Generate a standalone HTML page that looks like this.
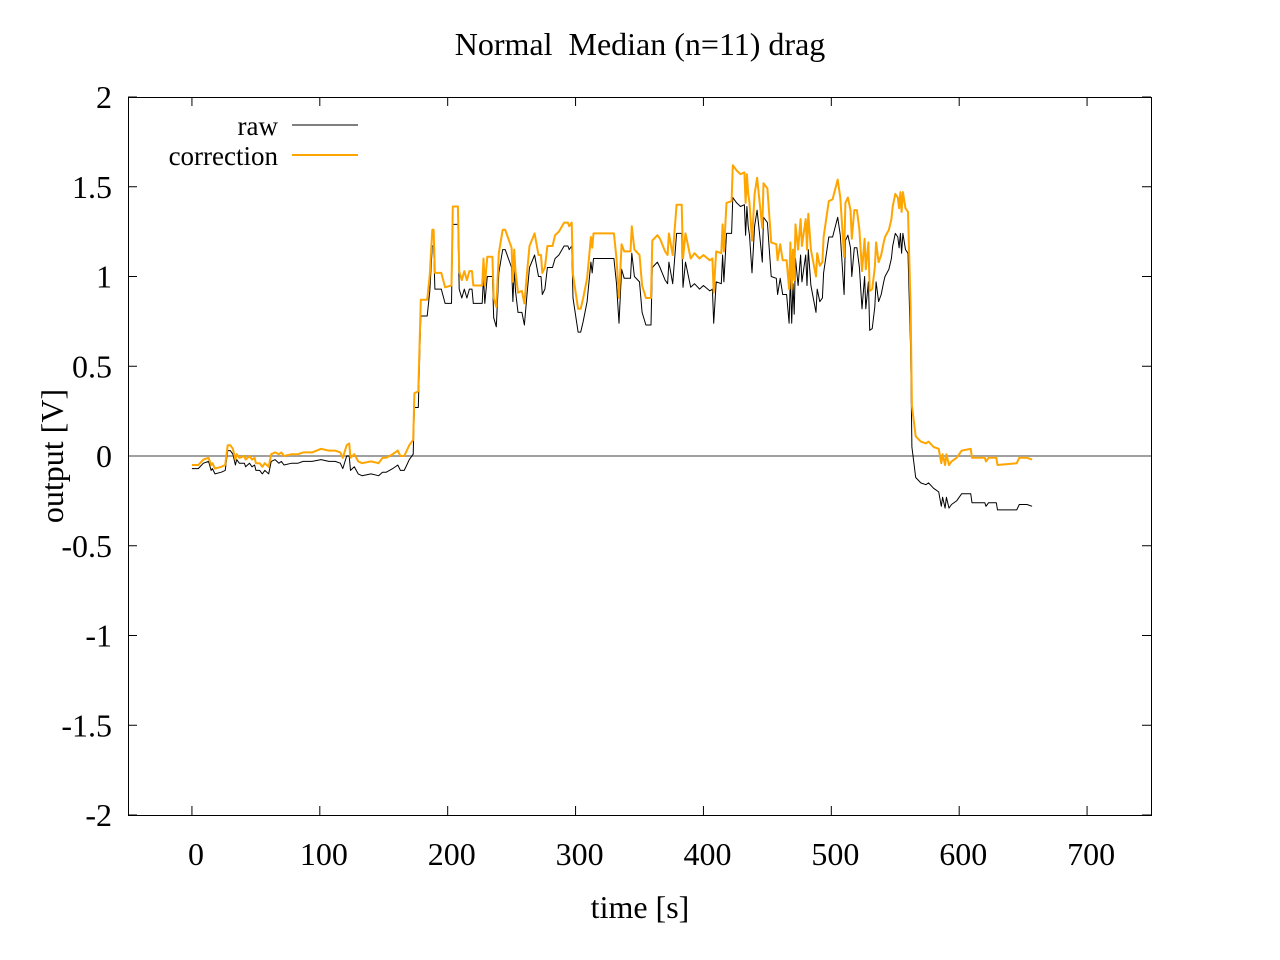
<!DOCTYPE html>
<html><head><meta charset="utf-8"><style>
html,body{margin:0;padding:0;background:#fff;}
svg{display:block;font-family:"Liberation Serif",serif;}
</style></head><body>
<svg id="chart" width="1280" height="960" viewBox="0 0 1280 960" xmlns="http://www.w3.org/2000/svg">
<rect width="1280" height="960" fill="#fff"/>
<text x="640" y="55" font-size="32" text-anchor="middle">Normal &#160;Median (n=11) drag</text>
<g id="ticks"></g>
<line id="zero" x1="128" x2="1151" stroke="#a0a0a0" stroke-width="2"/>
<g id="series"></g>
<rect x="128.5" y="97.5" width="1023" height="718" fill="none" stroke="#000" stroke-width="1"/>
<text x="640" y="918" font-size="32" text-anchor="middle">time [s]</text>
<text transform="translate(63,456) rotate(-90)" font-size="32" text-anchor="middle">output [V]</text>
<g>
<text x="278" y="135" font-size="27" text-anchor="end">raw</text>
<line x1="292" x2="358" y1="125" y2="125" stroke="#000" stroke-width="1"/>
<text x="278" y="165" font-size="27" text-anchor="end">correction</text>
<line x1="292" x2="358" y1="155" y2="155" stroke="#ffa500" stroke-width="2"/>
</g>
</svg>
<script>
const xTicks = [0,100,200,300,400,500,600,700];
const yTicks = [2,1.5,1,0.5,0,-0.5,-1,-1.5,-2];
const times = [0,5,9,13,15,16,18,23,26,28,30,32,34,35,37,41,42,45,47,49,50,53,55,57,60,62,65,68,70,72,78,83,87,94,101,107,112,116,118,121,123,124,127,130,133,140,146,149,152,157,161,163,166,168,170,173,174,177,179,184,186,188,189,190,195,198,203,204,208,209,211,213,215,217,219,220,227,228,229,231,235,236,238,240,243,245,250,251,252,253,255,258,260,262,264,268,271,273,274,276,278,282,284,287,291,294,295,297,298,302,304,306,309,312,313,314,330,332,334,336,338,343,344,346,350,352,355,359,360,364,366,370,372,373,376,379,383,384,386,390,393,397,400,405,407,408,410,414,415,416,418,422,423,426,429,432,433,434,435,436,438,440,442,444,446,447,450,453,457,458,460,462,465,467,468,469,470,471,472,474,476,477,480,481,482,484,488,489,491,493,494,498,501,505,507,510,511,513,515,516,518,520,522,524,526,527,529,530,532,534,535,537,539,541,542,545,547,548,550,552,553,554,555,556,558,560,562,563,566,570,574,576,580,584,586,587,589,590,592,594,598,602,609,610,620,621,623,629,630,645,647,653,657];
const rawValues = [-0.07,-0.07,-0.04,-0.03,-0.08,-0.07,-0.1,-0.09,-0.08,0.03,0.03,0.01,-0.05,-0.02,-0.04,-0.04,-0.06,-0.04,-0.06,-0.05,-0.08,-0.08,-0.1,-0.08,-0.1,-0.03,-0.02,-0.04,-0.03,-0.05,-0.04,-0.04,-0.03,-0.03,-0.02,-0.03,-0.03,-0.04,-0.07,0.0,0.0,-0.08,-0.06,-0.1,-0.11,-0.1,-0.11,-0.09,-0.09,-0.07,-0.05,-0.08,-0.08,-0.05,-0.02,0.01,0.27,0.27,0.78,0.78,0.92,1.17,1.17,0.93,0.93,0.85,0.85,1.29,1.29,0.93,0.88,0.93,0.88,0.93,0.93,0.85,0.85,1.0,0.85,1.0,1.0,0.77,0.72,1.02,1.15,1.15,1.05,0.86,1.04,0.92,0.8,0.8,0.73,0.9,1.05,1.12,1.0,1.0,0.9,0.93,1.05,1.05,1.1,1.12,1.17,1.17,1.15,1.17,0.88,0.69,0.69,0.75,0.86,1.08,1.02,1.1,1.1,0.96,0.74,1.04,0.99,0.99,1.13,1.0,0.97,0.8,0.73,0.73,1.05,1.08,1.05,0.98,0.96,1.08,0.96,1.24,1.24,0.94,1.08,0.94,0.96,0.93,0.95,0.92,0.93,0.74,0.97,0.96,1.12,0.97,1.24,1.24,1.44,1.41,1.39,1.4,1.23,1.39,1.28,1.23,1.02,1.28,1.37,1.23,1.08,1.33,1.3,1.0,0.99,0.9,0.99,0.9,0.9,0.74,1.0,0.74,0.96,0.79,1.1,0.95,1.12,0.97,1.12,0.95,1.15,0.95,0.8,0.93,0.86,0.88,1.02,1.22,1.22,1.33,1.23,0.9,1.2,1.23,1.16,1.0,1.16,1.16,1.05,0.82,1.0,0.82,0.97,0.7,0.71,0.83,0.97,0.86,0.9,0.97,1.0,1.04,1.1,1.17,1.24,1.22,1.16,1.24,1.13,1.24,1.15,1.13,0.6,0.05,-0.12,-0.15,-0.16,-0.15,-0.18,-0.2,-0.28,-0.23,-0.29,-0.23,-0.29,-0.27,-0.25,-0.21,-0.21,-0.26,-0.26,-0.28,-0.26,-0.26,-0.3,-0.3,-0.27,-0.27,-0.28];
const corrValues = [-0.05,-0.05,-0.02,-0.01,-0.05,-0.04,-0.07,-0.06,-0.05,0.06,0.06,0.04,-0.02,0.01,-0.01,0.0,-0.02,0.0,-0.02,-0.01,-0.04,-0.04,-0.06,-0.04,-0.06,0.01,0.02,0.01,0.02,0.0,0.01,0.01,0.02,0.02,0.04,0.03,0.03,0.02,-0.01,0.06,0.07,-0.01,0.01,-0.03,-0.04,-0.03,-0.04,-0.01,-0.01,0.01,0.03,0.0,0.0,0.03,0.06,0.09,0.35,0.36,0.87,0.87,1.01,1.26,1.26,1.02,1.02,0.94,0.95,1.39,1.39,1.03,0.98,1.03,0.98,1.03,1.03,0.95,0.95,1.1,0.95,1.11,1.11,0.88,0.83,1.13,1.26,1.26,1.16,0.97,1.15,1.03,0.91,0.92,0.85,1.02,1.17,1.24,1.12,1.12,1.02,1.05,1.17,1.17,1.23,1.25,1.3,1.3,1.28,1.3,1.01,0.82,0.82,0.88,0.99,1.22,1.16,1.24,1.24,1.1,0.88,1.18,1.14,1.14,1.28,1.15,1.12,0.95,0.88,0.88,1.2,1.23,1.21,1.14,1.12,1.24,1.12,1.4,1.4,1.1,1.24,1.1,1.13,1.1,1.12,1.09,1.1,0.91,1.14,1.13,1.29,1.14,1.41,1.42,1.62,1.59,1.57,1.58,1.41,1.57,1.46,1.41,1.2,1.46,1.55,1.41,1.27,1.52,1.49,1.19,1.18,1.09,1.18,1.09,1.09,0.93,1.19,0.93,1.15,0.98,1.29,1.15,1.32,1.17,1.32,1.15,1.35,1.15,1.0,1.13,1.06,1.08,1.22,1.42,1.43,1.54,1.44,1.11,1.41,1.44,1.37,1.21,1.37,1.37,1.26,1.03,1.21,1.04,1.19,0.92,0.93,1.05,1.19,1.08,1.12,1.19,1.22,1.26,1.32,1.39,1.46,1.44,1.38,1.47,1.36,1.47,1.38,1.36,0.83,0.28,0.11,0.08,0.07,0.08,0.05,0.04,-0.04,0.01,-0.05,0.01,-0.05,-0.03,-0.01,0.03,0.04,-0.01,-0.01,-0.03,-0.01,-0.01,-0.05,-0.04,-0.01,-0.01,-0.02];

const NS = 'http://www.w3.org/2000/svg';
const X0 = 128, X1 = 1151, Y0 = 97, Y1 = 815;
function xs(t){ return X0 + (t + 50) / 800 * (X1 - X0); }
function ys(v){ return Y1 - (v + 2) / 4 * (Y1 - Y0); }

const zl = document.getElementById('zero');
zl.setAttribute('y1', ys(0)); zl.setAttribute('y2', ys(0));

const tg = document.getElementById('ticks');
xTicks.forEach(t => {
  const x = xs(t);
  [[Y1, Y1-9],[Y0, Y0+9]].forEach(p => {
    const l = document.createElementNS(NS,'line');
    
    
    l.setAttribute('x1', x); l.setAttribute('x2', x);
    l.setAttribute('y1', p[0]); l.setAttribute('y2', p[1]);
    l.setAttribute('stroke', '#000');
    tg.appendChild(l);
  });
  const tx = document.createElementNS(NS,'text');
  
  
  tx.setAttribute('x', x + 4); tx.setAttribute('y', 865);
  tx.setAttribute('font-size', '32'); tx.setAttribute('text-anchor', 'middle');
  tx.textContent = t;
  tg.appendChild(tx);
});
yTicks.forEach(v => {
  const y = ys(v);
  [[X0, X0+9],[X1, X1-9]].forEach(p => {
    const l = document.createElementNS(NS,'line');
    
    
    l.setAttribute('x1', p[0]); l.setAttribute('x2', p[1]);
    l.setAttribute('y1', y); l.setAttribute('y2', y);
    l.setAttribute('stroke', '#000');
    tg.appendChild(l);
  });
  const tx = document.createElementNS(NS,'text');
  
  
  tx.setAttribute('x', 112); tx.setAttribute('y', y + 11);
  tx.setAttribute('font-size', '32'); tx.setAttribute('text-anchor', 'end');
  tx.textContent = v;
  tg.appendChild(tx);
});

const sg = document.getElementById('series');
function addLine(vals, color, w, name){
  const p = document.createElementNS(NS,'polyline');
  
  
  p.setAttribute('points', times.map((t,i) => xs(t).toFixed(1) + ',' + ys(vals[i]).toFixed(1)).join(' '));
  p.setAttribute('fill', 'none');
  p.setAttribute('stroke', color);
  p.setAttribute('stroke-width', w);
  p.setAttribute('stroke-linejoin', 'round');
  sg.appendChild(p);
}
addLine(rawValues, '#000', 1, 'raw-line');
addLine(corrValues, '#ffa500', 2, 'correction-line');
</script>
</body></html>
